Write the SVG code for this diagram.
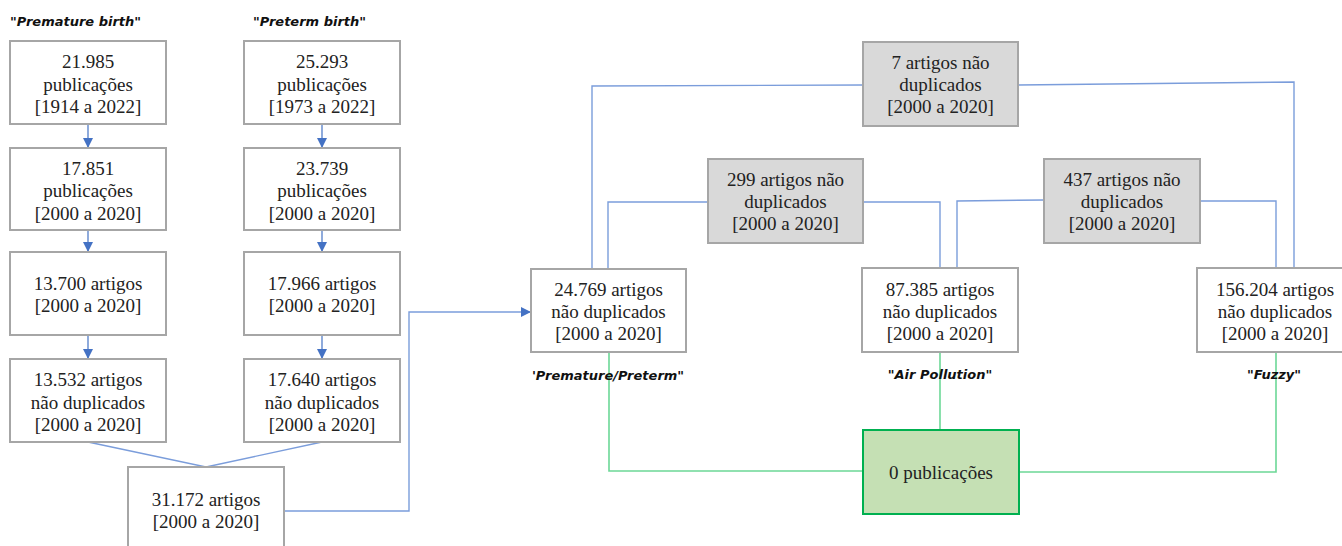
<svg xmlns="http://www.w3.org/2000/svg" width="1342" height="546" viewBox="0 0 1342 546">
<defs>
<style>
.box{fill:#ffffff;stroke:#a6a6a6;stroke-width:2}
.gbox{fill:#d9d9d9;stroke:#a6a6a6;stroke-width:2}
.zbox{fill:#c5e0b4;stroke:#00b050;stroke-width:2}
.t{font-family:"Liberation Serif","Times New Roman",serif;font-size:19px;fill:#222;text-anchor:middle}
.lbl{font-family:"DejaVu Sans",Verdana,sans-serif;font-size:13px;font-weight:bold;font-style:italic;fill:#111}
.blue{fill:none;stroke:#4472c4;stroke-width:1.2}
.lblue{fill:none;stroke:#7b9ddb;stroke-width:1.4}
.green{fill:none;stroke:#6cd897;stroke-width:1.6}
</style>
<marker id="arr" markerWidth="10" markerHeight="10" refX="9" refY="5" orient="auto" markerUnits="userSpaceOnUse">
<path d="M0,0 L10,5 L0,10 Z" fill="#4472c4"/>
</marker>
</defs>
<rect width="1342" height="546" fill="#ffffff"/>

<g id="connectors">
<line class="blue" x1="88" y1="124" x2="88" y2="147" marker-end="url(#arr)"/>
<line class="blue" x1="88" y1="230" x2="88" y2="251" marker-end="url(#arr)"/>
<line class="blue" x1="88" y1="335" x2="88" y2="358" marker-end="url(#arr)"/>
<line class="blue" x1="322" y1="124" x2="322" y2="147" marker-end="url(#arr)"/>
<line class="blue" x1="322" y1="230" x2="322" y2="251" marker-end="url(#arr)"/>
<line class="blue" x1="322" y1="335" x2="322" y2="358" marker-end="url(#arr)"/>
<polyline class="lblue" points="88,442 206,467 322,442"/>
<polyline class="lblue" points="284,511 409,511 409,312 530,312" marker-end="url(#arr)"/>
<polyline class="lblue" points="592,269 592,86 863,85"/>
<polyline class="lblue" points="1018,85 1294,82 1294,268"/>
<polyline class="lblue" points="608,269 608,202 708,202"/>
<polyline class="lblue" points="863,202 940,202 940,268"/>
<polyline class="lblue" points="957,268 957,201 1044,200"/>
<polyline class="lblue" points="1200,201 1276,201 1276,268"/>
<polyline class="green" points="609,352 609,471 863,471"/>
<line class="green" x1="940" y1="352" x2="940" y2="430"/>
<polyline class="green" points="1019,472 1276,472 1276,352"/>
</g>

<g id="label-premature-birth"><text class="lbl" x="10" y="26">"Premature birth"</text></g>
<g id="label-preterm-birth"><text class="lbl" x="253" y="26">"Preterm birth"</text></g>

<g id="n1"><rect class="box" x="10" y="41" width="156" height="83"/>
<text class="t" x="88" y="68">21.985</text><text class="t" x="88" y="90.5">publicações</text><text class="t" x="88" y="113">[1914 a 2022]</text></g>
<g id="n2"><rect class="box" x="10" y="148" width="156" height="82"/>
<text class="t" x="88" y="174.5">17.851</text><text class="t" x="88" y="197">publicações</text><text class="t" x="88" y="219.5">[2000 a 2020]</text></g>
<g id="n3"><rect class="box" x="10" y="252" width="156" height="83"/>
<text class="t" x="88" y="290">13.700 artigos</text><text class="t" x="88" y="312">[2000 a 2020]</text></g>
<g id="n4"><rect class="box" x="10" y="359" width="156" height="83"/>
<text class="t" x="88" y="386">13.532 artigos</text><text class="t" x="88" y="408.5">não duplicados</text><text class="t" x="88" y="431">[2000 a 2020]</text></g>

<g id="m1"><rect class="box" x="244" y="41" width="156" height="83"/>
<text class="t" x="322" y="68">25.293</text><text class="t" x="322" y="90.5">publicações</text><text class="t" x="322" y="113">[1973 a 2022]</text></g>
<g id="m2"><rect class="box" x="244" y="148" width="156" height="82"/>
<text class="t" x="322" y="174.5">23.739</text><text class="t" x="322" y="197">publicações</text><text class="t" x="322" y="219.5">[2000 a 2020]</text></g>
<g id="m3"><rect class="box" x="244" y="252" width="156" height="83"/>
<text class="t" x="322" y="290">17.966 artigos</text><text class="t" x="322" y="312">[2000 a 2020]</text></g>
<g id="m4"><rect class="box" x="244" y="359" width="156" height="83"/>
<text class="t" x="322" y="386">17.640 artigos</text><text class="t" x="322" y="408.5">não duplicados</text><text class="t" x="322" y="431">[2000 a 2020]</text></g>

<g id="merge"><rect class="box" x="128" y="467" width="156" height="90"/>
<text class="t" x="206" y="506">31.172 artigos</text><text class="t" x="206" y="528">[2000 a 2020]</text></g>

<g id="pp"><rect class="box" x="531" y="269" width="155" height="83"/>
<text class="t" x="608.5" y="296">24.769 artigos</text><text class="t" x="608.5" y="318">não duplicados</text><text class="t" x="608.5" y="340">[2000 a 2020]</text></g>
<g id="ap"><rect class="box" x="862" y="268" width="156" height="84"/>
<text class="t" x="940" y="296">87.385 artigos</text><text class="t" x="940" y="318">não duplicados</text><text class="t" x="940" y="340">[2000 a 2020]</text></g>
<g id="fz"><rect class="box" x="1197" y="268" width="150" height="84"/>
<text class="t" x="1275" y="296">156.204 artigos</text><text class="t" x="1275" y="318">não duplicados</text><text class="t" x="1275" y="340">[2000 a 2020]</text></g>

<g id="i7"><rect class="gbox" x="863" y="42" width="155" height="84"/>
<text class="t" x="940.5" y="69">7 artigos não</text><text class="t" x="940.5" y="91">duplicados</text><text class="t" x="940.5" y="113">[2000 a 2020]</text></g>
<g id="i299"><rect class="gbox" x="708" y="159" width="155" height="84"/>
<text class="t" x="785.5" y="186">299 artigos não</text><text class="t" x="785.5" y="208">duplicados</text><text class="t" x="785.5" y="230">[2000 a 2020]</text></g>
<g id="i437"><rect class="gbox" x="1044" y="159" width="156" height="84"/>
<text class="t" x="1122" y="186">437 artigos não</text><text class="t" x="1122" y="208">duplicados</text><text class="t" x="1122" y="230">[2000 a 2020]</text></g>

<g id="zero"><rect class="zbox" x="863" y="430" width="156" height="84"/>
<text class="t" x="941" y="479">0 publicações</text></g>

<g id="label-pp"><text class="lbl" x="608" y="380" text-anchor="middle">'Premature/Preterm"</text></g>
<g id="label-ap"><text class="lbl" x="940" y="379" text-anchor="middle">"Air Pollution"</text></g>
<g id="label-fz"><text class="lbl" x="1274" y="379" text-anchor="middle">"Fuzzy"</text></g>
</svg>
